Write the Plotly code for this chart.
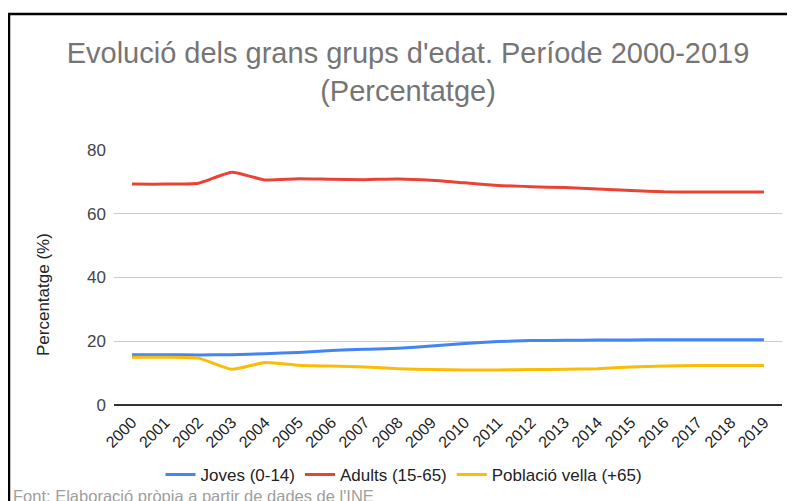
import plotly.graph_objects as go

years = list(range(2000, 2020))
joves = [15.8, 15.8, 15.7, 15.8, 16.1, 16.5, 17.1, 17.5, 17.8, 18.5,
         19.3, 19.9, 20.2, 20.3, 20.4, 20.4, 20.5, 20.5, 20.5, 20.5]
adults = [69.3, 69.3, 69.6, 73.0, 70.6, 71.0, 70.8, 70.7, 70.9, 70.5,
          69.7, 68.9, 68.5, 68.2, 67.8, 67.3, 66.9, 66.8, 66.8, 66.8]
vella = [15.0, 15.0, 14.7, 11.2, 13.3, 12.5, 12.2, 11.9, 11.4, 11.1,
         11.0, 11.0, 11.1, 11.2, 11.4, 11.9, 12.2, 12.4, 12.4, 12.4]

series_names = ["Joves (0-14)", "Adults (15-65)", "Població vella (+65)"]
colors = ["#4285F4", "#EA4335", "#FBBC04"]
y_ticks = [0, 20, 40, 60, 80]

# page body has an 8px default margin: figure coordinates = page pixels - 8
OFF = 8
W, H = 795 - OFF, 501 - OFF
L, R, T, B = 114 - OFF, 13, 150 - OFF, 96
PW, PH = W - L - R, H - T - B


def px_x(x):
    return (x - OFF - L) / PW


def px_y(y):
    return (H - (y - OFF) - B) / PH


fig = go.Figure()
for name, vals, col in zip(series_names, [joves, adults, vella], colors):
    fig.add_trace(go.Scatter(
        x=years, y=vals, name=name, mode="lines",
        line=dict(color=col, width=3, shape="spline", smoothing=0.5),
    ))

fig.update_layout(
    width=W, height=H,
    margin=dict(l=L, r=R, t=T, b=B, autoexpand=False),
    paper_bgcolor="white", plot_bgcolor="white",
    font=dict(family="Liberation Sans, Arial, sans-serif", color="#222"),
    title=dict(
        text="Evolució dels grans grups d'edat. Període 2000-2019<br>(Percentatge)",
        x=(408 - OFF) / W, xanchor="center",
        yref="container", y=1 - 55 / H, yanchor="top",
        font=dict(size=29, color="#757575"),
    ),
    showlegend=True,
    legend=dict(
        orientation="h", x=(404 - OFF) / W, xref="container", xanchor="center",
        y=1 - (475 - OFF) / H, yref="container", yanchor="middle",
        font=dict(size=17, color="#222"),
        itemwidth=30, tracegroupgap=0,
    ),
)

fig.update_xaxes(
    range=[1999.46, 2019.54], automargin=False,
    tickmode="array", tickvals=years, ticktext=[str(y) for y in years],
    tickangle=-45, tickfont=dict(size=16, color="#222"),
    ticklabelstandoff=4,
    showgrid=False, zeroline=False, showline=False, ticks="",
)
fig.update_yaxes(
    range=[0, 80], automargin=False,
    tickmode="array", tickvals=y_ticks,
    tickfont=dict(size=17, color="#444"),
    ticklabelstandoff=7,
    showgrid=True, gridcolor="#cccccc", gridwidth=1,
    zeroline=True, zerolinecolor="#333333", zerolinewidth=1.5,
    ticks="", ticklen=0,
)

# y-axis title placed where the reference shows it
fig.add_annotation(
    text="Percentatge (%)", textangle=-90,
    xref="paper", yref="paper",
    x=px_x(43), y=px_y(295), xanchor="center", yanchor="middle",
    showarrow=False, font=dict(size=17, color="#222"),
)

# Frame lines of the screenshot (top and left borders)
fig.add_shape(type="line", xref="paper", yref="paper",
              x0=px_x(OFF), x1=px_x(800), y0=px_y(14), y1=px_y(14),
              line=dict(color="black", width=2.5))
fig.add_shape(type="line", xref="paper", yref="paper",
              x0=px_x(OFF + 1), x1=px_x(OFF + 1), y0=px_y(13), y1=px_y(510),
              line=dict(color="black", width=2.5))

fig.add_annotation(
    text="Font: Elaboració pròpia a partir de dades de l'INE",
    xref="paper", yref="paper",
    x=px_x(11), xanchor="left",
    y=px_y(485), yanchor="top",
    showarrow=False, font=dict(size=16.5, color="#9e9e9e"),
)

fig.write_html("out.html")
